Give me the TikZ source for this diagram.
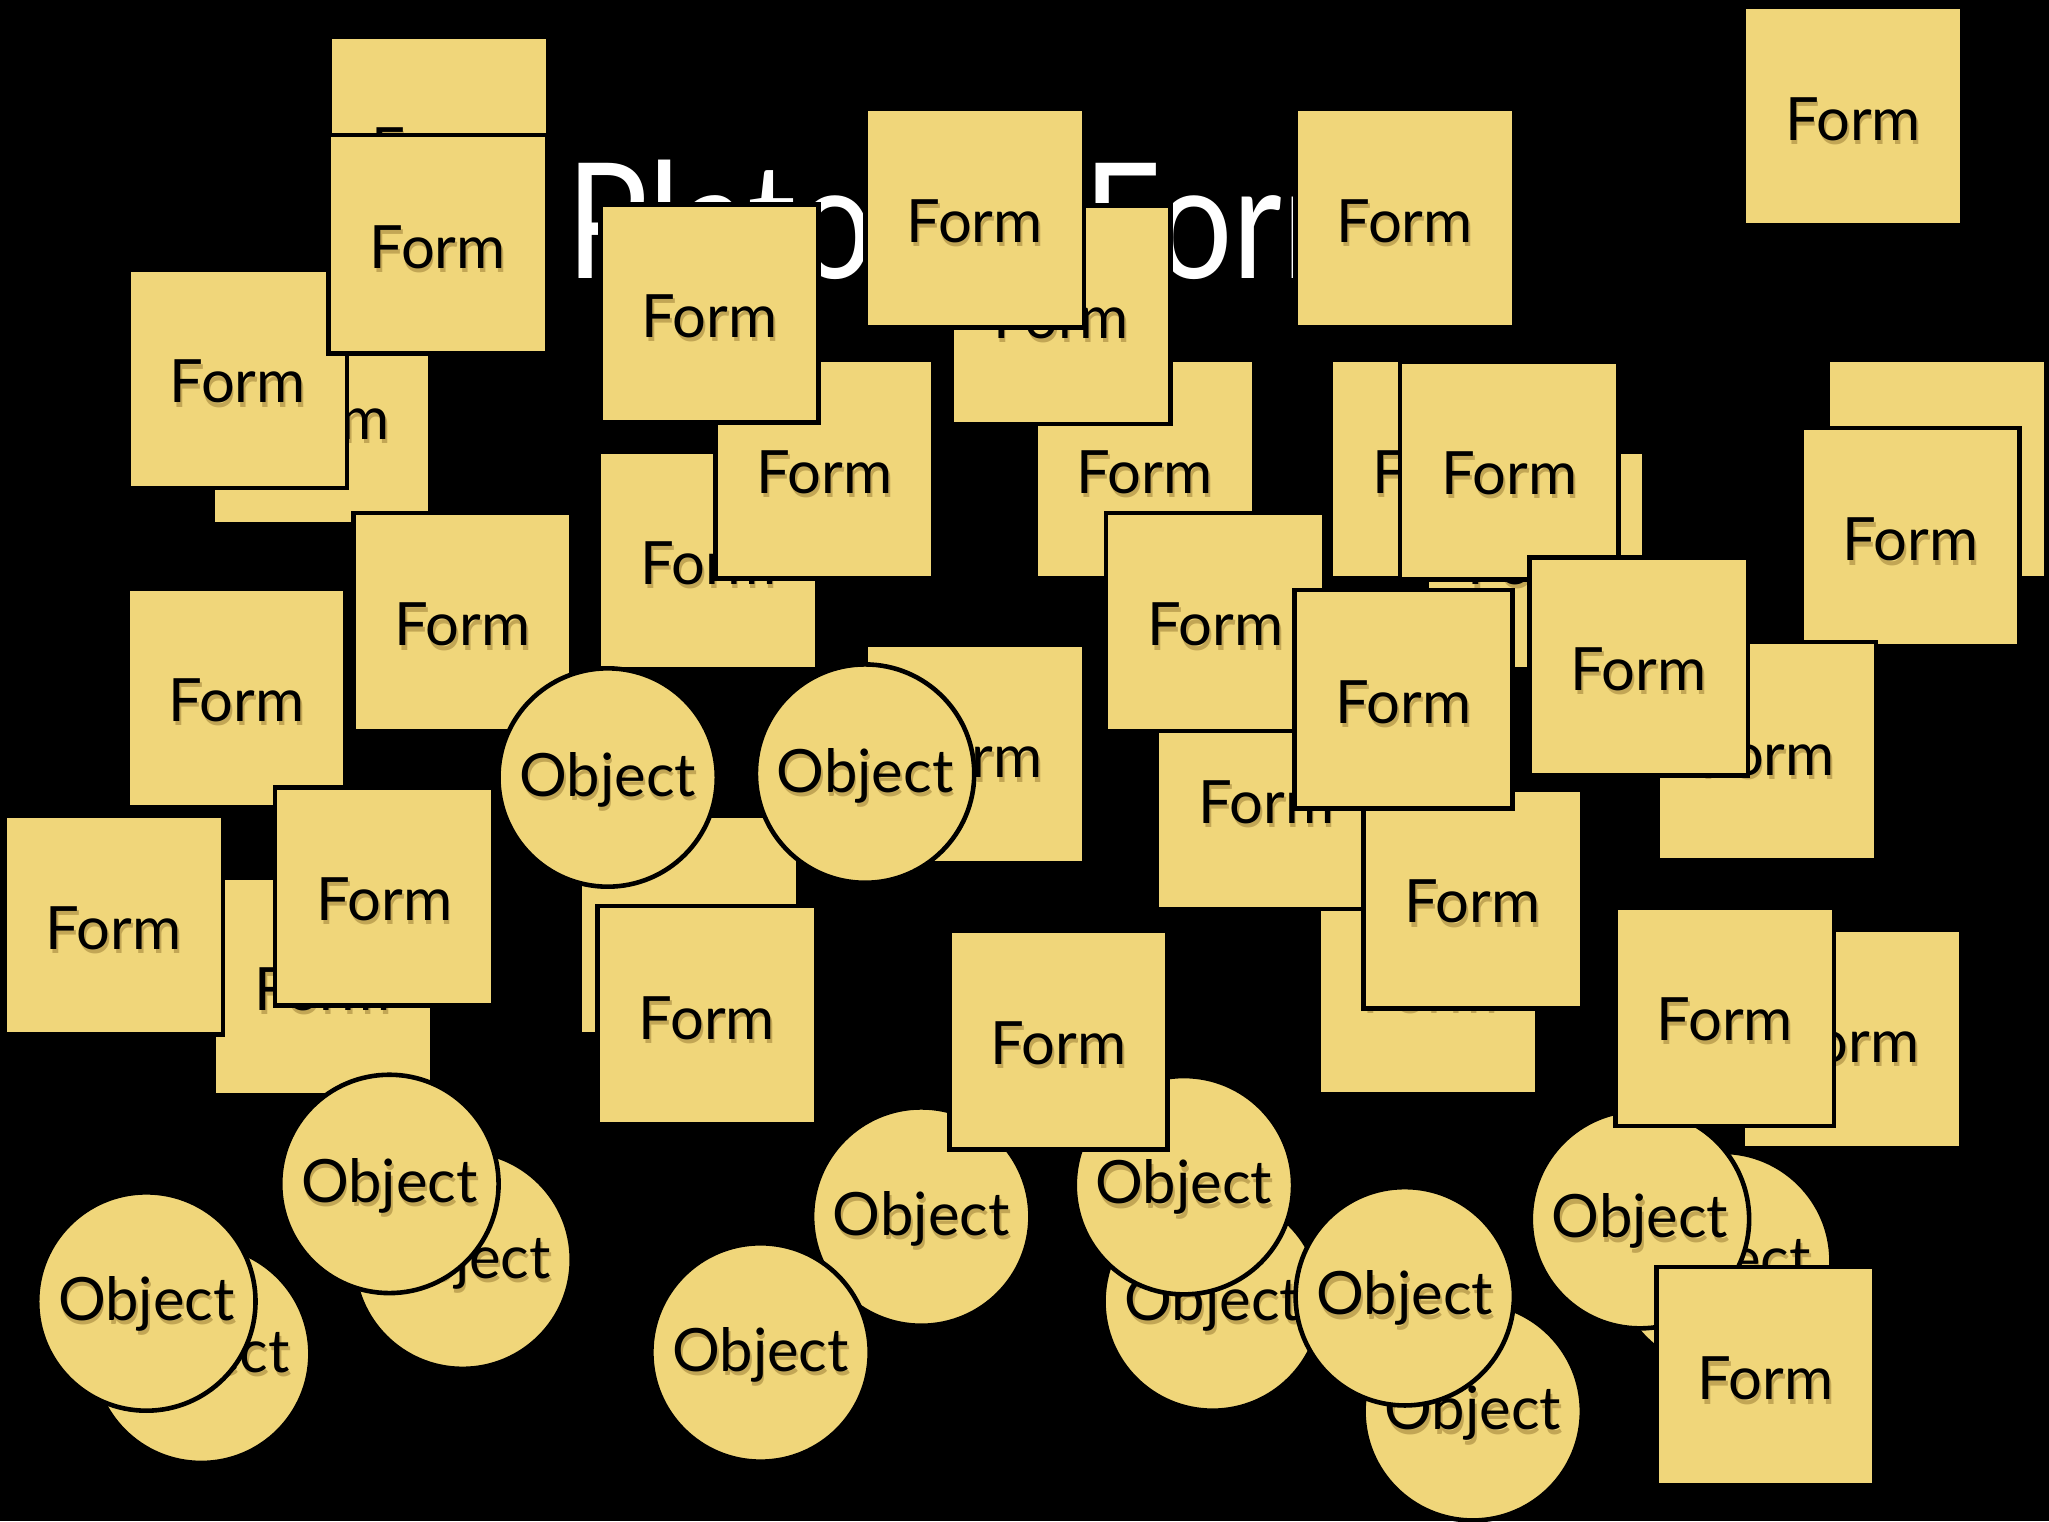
\documentclass[tikz,border=0pt]{standalone}
\usepackage{fontspec}
\setmainfont{Lato}
\usepackage{xcolor}
\usepackage{tikz}
\definecolor{PFYellow}{HTML}{F0D67A}
\definecolor{PFShade}{HTML}{C2A655}
\newcommand{\shadetext}[1]{\rule{0pt}{11.4pt}\makebox[0pt][l]{\hspace{0.4pt}\raisebox{-0.9pt}{\textcolor{PFShade}{#1}}}#1}

\begin{document}
\begin{tikzpicture}[x=0.01cm,y=-0.01cm,
  formbox/.style={draw=black,line width=1pt,fill=PFYellow,minimum width=1.67cm,minimum height=1.67cm,inner sep=0pt,font=\fontsize{13}{15}\selectfont},
  objdisc/.style={circle,draw=black,line width=1pt,fill=PFYellow,minimum size=1.67cm,inner sep=0pt,font=\fontsize{13}{15}\selectfont}]
\path[use as bounding box] (0,0) rectangle (1568,1164);
\fill[black] (0,0) rectangle (1568,1164);
\node[anchor=base west,text=white,inner sep=0pt,font=\fontsize{35}{40}\selectfont] (title) at (433,213) {\scalebox{0.85}[1]{Platonic Forms}};
% upper left pile
\node[formbox] (fa) at (336,112) {\shadetext{Form}};
\node[formbox] (fd) at (246,318) {\shadetext{Form}};
\node[formbox] (fc) at (182,290) {\shadetext{Form}};
\node[formbox] (fb) at (335,187) {\shadetext{Form}};
\node[formbox] (fe) at (354,476) {\shadetext{Form}};
\node[formbox] (ff) at (181,534) {\shadetext{Form}};
\node[formbox] (fh) at (542,429) {\shadetext{Form}};
\node[formbox] (fi) at (631,359) {\shadetext{Form}};
\node[formbox] (fg) at (543,240) {\shadetext{Form}};
\node[formbox] (fn) at (876,359) {\shadetext{Form}};
\node[formbox] (fk) at (812,241) {\shadetext{Form}};
\node[formbox] (fj) at (746,167) {\shadetext{Form}};
\node[formbox] (fl) at (1075,167) {\shadetext{Form}};
\node[formbox] (fm) at (1418,89) {\shadetext{Form}};
% middle pile
\node[formbox] (fz) at (1093,754) {\shadetext{Form}};
\node[formbox] (fx) at (969,612) {\shadetext{Form}};
\node[formbox] (fo) at (930,476) {\shadetext{Form}};
\node[formbox] (fp) at (1102,359) {\shadetext{Form}};
\node[formbox] (fr) at (1175,429) {\shadetext{Form}};
\node[formbox] (fq) at (1155,360) {\shadetext{Form}};
\node[formbox] (fy) at (1127,688) {\shadetext{Form}};
\node[formbox] (fu) at (1074,535) {\shadetext{Form}};
% right pile
\node[formbox] (fs) at (1482,359) {\shadetext{Form}};
\node[formbox] (fv) at (1462,411) {\shadetext{Form}};
\node[formbox] (fw) at (1352,575) {\shadetext{Form}};
\node[formbox] (ft) at (1254,510) {\shadetext{Form}};
\node[formbox] (fab) at (1417,795) {\shadetext{Form}};
% lower left pile
\node[formbox] (faf) at (527,708) {\shadetext{Form}};
\node[formbox] (fae) at (541,777) {\shadetext{Form}};
\node[formbox] (fai) at (247,755) {\shadetext{Form}};
\node[formbox] (fag) at (87,708) {\shadetext{Form}};
\node[formbox] (fah) at (294,686) {\shadetext{Form}};
\node[formbox] (faj) at (746,577) {\shadetext{Form}};
% objects
\node[objdisc] (oa) at (465,595) {\shadetext{Object}};
\node[objdisc] (ob) at (662,592) {\shadetext{Object}};
\node[objdisc] (od) at (354,964) {\shadetext{Object}};
\node[objdisc] (oc) at (298,906) {\shadetext{Object}};
\node[objdisc] (of) at (154,1036) {\shadetext{Object}};
\node[objdisc] (oe) at (112,996) {\shadetext{Object}};
\node[objdisc] (oh) at (705,931) {\shadetext{Object}};
\node[objdisc] (og) at (582,1035) {\shadetext{Object}};
\node[objdisc] (oj) at (928,996) {\shadetext{Object}};
\node[objdisc] (oi) at (906,907) {\shadetext{Object}};
\node[formbox] (fad) at (810,796) {\shadetext{Form}};
\node[objdisc] (ol) at (1127,1080) {\shadetext{Object}};
\node[objdisc] (ok) at (1075,992) {\shadetext{Object}};
\node[objdisc] (on) at (1318,965) {\shadetext{Object}};
\node[objdisc] (om) at (1255,933) {\shadetext{Object}};
\node[formbox] (faa) at (1320,778) {\shadetext{Form}};
\node[formbox] (fac) at (1351,1053) {\shadetext{Form}};
\end{tikzpicture}
\end{document}
